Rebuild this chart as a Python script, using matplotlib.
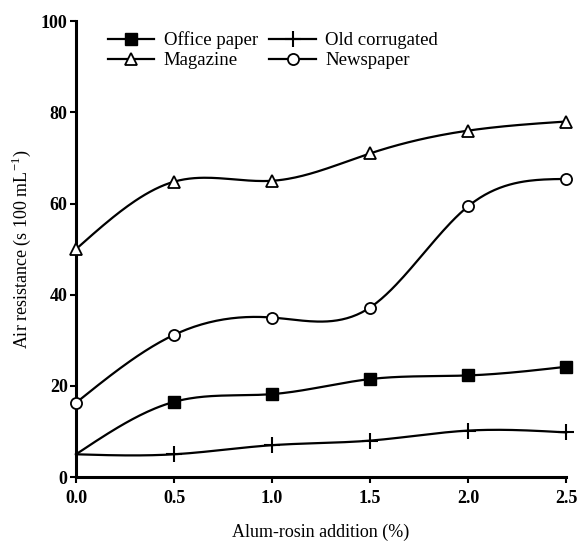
import numpy as np
import matplotlib
matplotlib.use("Agg")
import matplotlib.pyplot as plt

x = [0.0, 0.5, 1.0, 1.5, 2.0, 2.5]
office = [5, 16.5, 18.2, 21.5, 22.3, 24.2]
corrugated = [5, 5, 7, 8, 10.2, 9.8]
magazine = [50, 64.8, 65, 71, 76, 78]
newspaper = [16.3, 31.2, 35, 37.2, 59.4, 65.4]
xticks = [0.0, 0.5, 1.0, 1.5, 2.0, 2.5]
yticks = [0, 20, 40, 60, 80, 100]

plt.rcParams['font.family'] = ['Liberation Serif', 'DejaVu Serif']
plt.rcParams['mathtext.fontset'] = 'custom'
plt.rcParams['mathtext.rm'] = 'Liberation Serif'


def spline(xs, ys, n=200):
    xs = np.asarray(xs, float); ys = np.asarray(ys, float)
    m = len(xs); h = np.diff(xs)
    A = np.zeros((m, m)); b = np.zeros(m)
    A[0, 0] = A[-1, -1] = 1
    for i in range(1, m - 1):
        A[i, i - 1] = h[i - 1]; A[i, i] = 2 * (h[i - 1] + h[i]); A[i, i + 1] = h[i]
        b[i] = 3 * ((ys[i + 1] - ys[i]) / h[i] - (ys[i] - ys[i - 1]) / h[i - 1])
    c = np.linalg.solve(A, b)
    xx = np.linspace(xs[0], xs[-1], n); yy = np.empty_like(xx)
    for k, t in enumerate(xx):
        i = min(np.searchsorted(xs, t, side='right') - 1, m - 2)
        d = t - xs[i]
        bb = (ys[i + 1] - ys[i]) / h[i] - h[i] * (2 * c[i] + c[i + 1]) / 3
        dd = (c[i + 1] - c[i]) / (3 * h[i])
        yy[k] = ys[i] + bb * d + c[i] * d ** 2 + dd * d ** 3
    return xx, yy

fig = plt.figure(figsize=(5.78, 5.44), dpi=100)
ax = fig.add_axes([0.1315, 0.123, 0.848, 0.838])

series = [
    ("Office paper", office, dict(marker='s', mfc='black', ms=8), slice(1, None)),
    ("Old corrugated", corrugated, dict(marker='+', mfc='black', ms=12, mew=1.5), slice(1, None)),
    ("Magazine", magazine, dict(marker='^', mfc='white', ms=8, mew=1.3), slice(0, None)),
    ("Newspaper", newspaper, dict(marker='o', mfc='white', ms=8, mew=1.3), slice(0, None)),
]
handles = []
for name, ys, mk, sl in series:
    xx, yy = spline(x, ys)
    ax.plot(xx, yy, color='black', lw=1.6, clip_on=False, zorder=2)
    ax.plot(np.array(x)[sl], np.array(ys)[sl], ls='none', color='black', mec='black',
            clip_on=False, zorder=3, **mk)
    h, = ax.plot([], [], color='black', lw=1.6, mec='black', **mk)
    handles.append((h, name))

order = [0, 2, 1, 3]
ax.legend([handles[i][0] for i in order], [handles[i][1] for i in order], ncol=2,
          loc='upper left', bbox_to_anchor=(0.03, 1.015), frameon=False,
          fontsize=13.5, handlelength=2.5, columnspacing=0.6, handletextpad=0.5,
          labelspacing=0.15)

ax.set_xlim(0, 2.5)
ax.set_ylim(0, 100)
ax.set_xticks(xticks)
ax.set_xticklabels([f"{v:.1f}" for v in xticks])
ax.set_yticks(yticks)
for s in ['top', 'right']:
    ax.spines[s].set_visible(False)
for s in ['left', 'bottom']:
    ax.spines[s].set_linewidth(2.2)
ax.tick_params(direction='out', length=4, width=1.5, labelsize=13, pad=2)
for lab in ax.get_xticklabels() + ax.get_yticklabels():
    lab.set_fontweight('bold')
ax.tick_params(axis='x', pad=5)
ax.set_xlabel("Alum-rosin addition (%)", fontsize=13, labelpad=12)
ax.set_ylabel("Air resistance (s 100 mL$^{-1}$)", fontsize=13, labelpad=6)

fig.savefig("out.png", dpi=100)
